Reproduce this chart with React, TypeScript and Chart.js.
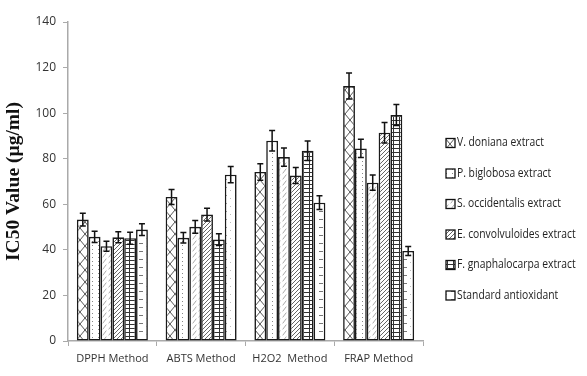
import React, { useEffect, useRef } from "react";
import { Chart, registerables } from "chart.js";

Chart.register(...registerables);

const categories = ["DPPH Method", "ABTS Method", "H2O2  Method", "FRAP Method"];
const seriesNames = [
  "V. doniana extract",
  "P. biglobosa extract",
  "S. occidentalis extract",
  "E. convolvuloides extract",
  "F. gnaphalocarpa extract",
  "Standard antioxidant",
];
const vDoniana = [53.3, 63.2, 74.2, 111.9];
const pBiglobosa = [45.7, 45.3, 87.9, 84.5];
const sOccidentalis = [41.6, 50.1, 80.7, 69.5];
const eConvolvuloides = [45.5, 55.5, 72.6, 91.4];
const fGnaphalocarpa = [45.1, 44.5, 83.5, 99.2];
const standardAntioxidant = [48.9, 73.0, 60.7, 39.5];

const vDonianaErr = [2.8, 3.3, 3.6, 5.7];
const pBiglobosaErr = [2.5, 2.3, 4.5, 4.0];
const sOccidentalisErr = [2.2, 2.8, 4.0, 3.3];
const eConvolvuloidesErr = [2.4, 2.8, 3.5, 4.5];
const fGnaphalocarpaErr = [2.6, 2.6, 4.3, 4.6];
const standardAntioxidantErr = [2.6, 3.6, 3.0, 2.0];

const yTicks = [0, 20, 40, 60, 80, 100, 120, 140];

function makePattern(kind: number): CanvasPattern | string {
  const c = document.createElement("canvas");
  let w = 8, h = 8;
  if (kind === 0) { w = 10; h = 12; }
  if (kind === 1) { w = 6; h = 4; }
  if (kind === 2) { w = 6; h = 6; }
  if (kind === 3) { w = 4; h = 4; }
  if (kind === 4) { w = 6; h = 4; }
  if (kind === 5) { w = 12; h = 8; }
  c.width = w; c.height = h;
  const g = c.getContext("2d")!;
  g.fillStyle = "#ffffff";
  g.fillRect(0, 0, w, h);
  g.lineCap = "square";
  if (kind === 0) {
    g.strokeStyle = "#555";
    g.lineWidth = 1;
    g.beginPath();
    g.moveTo(0, 0); g.lineTo(w, h);
    g.moveTo(w, 0); g.lineTo(0, h);
    g.stroke();
  } else if (kind === 1) {
    g.fillStyle = "#888";
    g.fillRect(2, 1, 1, 1);
  } else if (kind === 2) {
    g.strokeStyle = "#aaa";
    g.lineWidth = 1;
    g.beginPath();
    g.moveTo(1, 5); g.lineTo(4, 1);
    g.stroke();
  } else if (kind === 3) {
    g.strokeStyle = "#666";
    g.lineWidth = 1;
    g.beginPath();
    g.moveTo(0, 4); g.lineTo(4, 0);
    g.moveTo(-1, 1); g.lineTo(1, -1);
    g.moveTo(3, 5); g.lineTo(5, 3);
    g.stroke();
  } else if (kind === 4) {
    g.fillStyle = "#333";
    g.fillRect(0, 0, w, 1);
    g.fillRect(3, 0, 1, h);
  } else if (kind === 5) {
    g.fillStyle = "#777";
    g.fillRect(7, 3, 4, 1);
    g.fillStyle = "#bbb";
    g.fillRect(2, 6, 1, 1);
  }
  const p = g.createPattern(c, "repeat");
  return p || "#fff";
}

const errorBarPlugin = {
  id: "errorBars",
  afterDatasetsDraw(chart: any) {
    const ctx = chart.ctx;
    const y = chart.scales.y;
    ctx.save();
    ctx.strokeStyle = "#111";
    ctx.lineWidth = 1.5;
    chart.data.datasets.forEach((ds: any, i: number) => {
      const meta = chart.getDatasetMeta(i);
      meta.data.forEach((bar: any, j: number) => {
        const v = ds.data[j];
        const e = ds.errors[j];
        const top = y.getPixelForValue(v + e);
        const bot = y.getPixelForValue(v - e);
        const x = bar.x;
        ctx.beginPath();
        ctx.moveTo(x, top); ctx.lineTo(x, bot);
        ctx.moveTo(x - 3, top); ctx.lineTo(x + 3, top);
        ctx.moveTo(x - 3, bot); ctx.lineTo(x + 3, bot);
        ctx.stroke();
      });
    });
    ctx.restore();
  },
};

const legendPlugin = {
  id: "customLegend",
  afterDraw(chart: any) {
    const ctx = chart.ctx;
    ctx.save();
    const x0 = 446;
    const yStart = 143;
    const step = 30.5;
    ctx.textBaseline = "middle";
    chart.data.datasets.forEach((ds: any, i: number) => {
      const yc = yStart + i * step;
      ctx.fillStyle = ds.backgroundColor;
      ctx.fillRect(x0, yc - 4.5, 9, 9);
      ctx.strokeStyle = "#111";
      ctx.lineWidth = 1.3;
      ctx.strokeRect(x0, yc - 4.5, 9, 9);
      ctx.save();
      ctx.translate(x0 + 11, yc);
      ctx.scale(0.86, 1);
      ctx.font = '12px "Open Sans", sans-serif';
      ctx.fillStyle = "#222";
      ctx.fillText(ds.label, 0, 0);
      ctx.restore();
    });
    ctx.restore();
  },
};

export default function App() {
  const ref = useRef<HTMLCanvasElement>(null);
  useEffect(() => {
    const values = [vDoniana, pBiglobosa, sOccidentalis, eConvolvuloides, fGnaphalocarpa, standardAntioxidant];
    const errs = [vDonianaErr, pBiglobosaErr, sOccidentalisErr, eConvolvuloidesErr, fGnaphalocarpaErr, standardAntioxidantErr];
    const datasets = values.map((d, i) => ({
      label: seriesNames[i],
      data: d,
      errors: errs[i],
      backgroundColor: makePattern(i),
      borderColor: "#1a1a1a",
      borderWidth: 1.6,
      borderSkipped: false,
      categoryPercentage: 0.8,
      barPercentage: 1.0,
    }));
    const chart = new Chart(ref.current!, {
      type: "bar",
      data: { labels: categories, datasets: datasets as any },
      options: {
        animation: false,
        responsive: true,
        maintainAspectRatio: false,
        layout: { padding: { top: 22, right: 164, left: 0, bottom: 0 } },
        plugins: { legend: { display: false }, tooltip: { enabled: false } },
        scales: {
          x: {
            offset: true,
            grid: { offset: true, drawOnChartArea: false, drawTicks: true, tickLength: 5, color: "#aaa" },
            border: { color: "#aaa", width: 1.5 },
            ticks: { color: "#333", font: { family: '"Open Sans", sans-serif', size: 11 }, padding: 6 },
            afterFit: (s: any) => { s.height = 35; },
          },
          y: {
            min: 0,
            max: 140,
            afterBuildTicks: (s: any) => { s.ticks = yTicks.map((v) => ({ value: v })); },
            grid: { drawOnChartArea: false, drawTicks: true, tickLength: 5, color: "#aaa" },
            border: { color: "#aaa", width: 1.5 },
            ticks: { color: "#333", font: { family: '"Open Sans", sans-serif', size: 12 }, padding: 7 },
            title: {
              display: true,
              text: "IC50 Value (µg/ml)",
              color: "#111",
              font: { family: '"Liberation Serif", serif', size: 19.5, weight: "bold" },
              padding: { top: 2, bottom: 2 },
            },
            afterFit: (s: any) => { s.width = 68; },
          },
        },
      } as any,
      plugins: [errorBarPlugin, legendPlugin],
    });
    return () => chart.destroy();
  }, []);
  return (
    <div style={{ position: "fixed", left: 0, top: 0, width: 587, height: 376, background: "#fff" }}>
      <canvas ref={ref} />
    </div>
  );
}
